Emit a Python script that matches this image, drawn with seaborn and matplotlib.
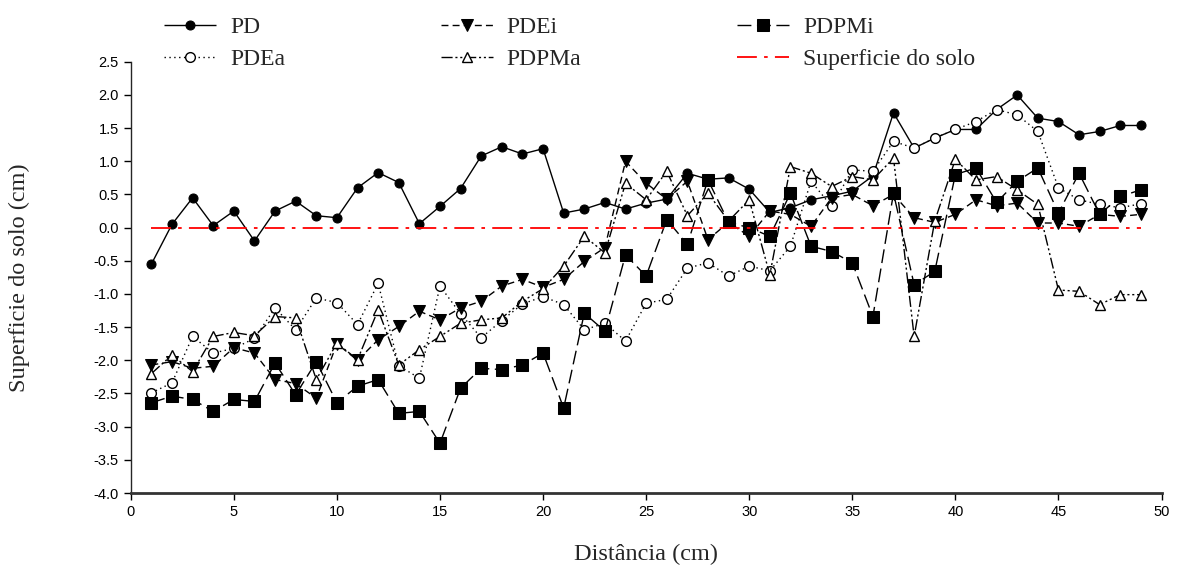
import numpy as np
import pandas as pd
import seaborn as sns
import matplotlib.pyplot as plt
from matplotlib.ticker import FormatStrFormatter

# distancia (cm)
dist = list(range(1, 50))

pd_vals = [-0.55, 0.05, 0.45, 0.03, 0.25, -0.20, 0.25, 0.40, 0.18, 0.15,
           0.60, 0.83, 0.68, 0.06, 0.32, 0.59, 1.08, 1.22, 1.11, 1.19,
           0.22, 0.28, 0.38, 0.28, 0.37, 0.43, 0.82, 0.73, 0.75, 0.58,
           0.23, 0.30, 0.42, 0.48, 0.55, 0.78, 1.73, 1.20, 1.35, 1.48,
           1.48, 1.78, 2.00, 1.65, 1.60, 1.40, 1.45, 1.54, 1.54]

pdei = [-2.07, -2.02, -2.12, -2.09, -1.81, -1.89, -2.29, -2.35, -2.57, -1.75,
        -2.00, -1.69, -1.49, -1.26, -1.39, -1.21, -1.11, -0.88, -0.78, -0.90,
        -0.78, -0.51, -0.30, 1.00, 0.67, 0.43, 0.70, -0.18, 0.08, -0.13,
        0.25, 0.20, 0.02, 0.45, 0.50, 0.33, 0.50, 0.15, 0.08, 0.20,
        0.42, 0.33, 0.37, 0.07, 0.07, 0.02, 0.20, 0.17, 0.20]

pdpmi = [-2.64, -2.54, -2.59, -2.77, -2.59, -2.62, -2.04, -2.52, -2.02, -2.64,
         -2.39, -2.29, -2.80, -2.77, -3.25, -2.42, -2.12, -2.14, -2.07, -1.89,
         -2.72, -1.29, -1.56, -0.41, -0.73, 0.12, -0.25, 0.72, 0.08, 0.00,
         -0.13, 0.52, -0.28, -0.36, -0.53, -1.34, 0.52, -0.86, -0.66, 0.80,
         0.90, 0.38, 0.70, 0.90, 0.22, 0.82, 0.20, 0.47, 0.57]

pdea = [-2.49, -2.34, -1.64, -1.89, -1.82, -1.67, -1.21, -1.54, -1.06, -1.13,
        -1.46, -0.84, -2.08, -2.27, -0.88, -1.30, -1.66, -1.40, -1.15, -1.04,
        -1.16, -1.54, -1.44, -1.71, -1.14, -1.08, -0.61, -0.53, -0.73, -0.58,
        -0.65, -0.28, 0.70, 0.32, 0.87, 0.85, 1.30, 1.20, 1.35, 1.48,
        1.60, 1.78, 1.70, 1.45, 0.60, 0.42, 0.35, 0.30, 0.36]

pdpma = [-2.20, -1.92, -2.17, -1.64, -1.58, -1.63, -1.34, -1.36, -2.29, -1.74,
         -1.99, -1.24, -2.07, -1.84, -1.64, -1.44, -1.39, -1.36, -1.11, -0.92,
         -0.58, -0.13, -0.38, 0.67, 0.42, 0.85, 0.18, 0.52, 0.10, 0.42,
         -0.71, 0.92, 0.82, 0.62, 0.77, 0.72, 1.05, -1.64, 0.10, 1.03,
         0.72, 0.77, 0.57, 0.35, -0.94, -0.96, -1.16, -1.01, -1.01]

solo = [0.0] * len(dist)

sns.set_style("ticks")
plt.rcParams['font.family'] = ['Liberation Serif', 'DejaVu Serif']

fig = plt.figure(figsize=(11.78, 5.67), dpi=100)
ax = fig.add_axes([0.111, 0.1305, 0.875, 0.7605])

sns.lineplot(x=dist, y=pd_vals, ax=ax, color='k', lw=1.0, marker='o', ms=6.5,
             mfc='k', mec='k', label='PD')
sns.lineplot(x=dist, y=pdea, ax=ax, color='k', lw=1.0, marker='o', ms=7,
             mfc='white', mec='k', mew=1.0, label='PDEa')
sns.lineplot(x=dist, y=pdei, ax=ax, color='k', lw=1.0, marker='v', ms=8,
             mfc='k', mec='k', label='PDEi')
sns.lineplot(x=dist, y=pdpma, ax=ax, color='k', lw=1.0, marker='^', ms=7.5,
             mfc='white', mec='k', mew=1.0, label='PDPMa')
sns.lineplot(x=dist, y=pdpmi, ax=ax, color='k', lw=1.0, marker='s', ms=8.5,
             mfc='k', mec='k', label='PDPMi')
sns.lineplot(x=dist, y=solo, ax=ax, color='red', lw=1.3, label='Superficie do solo')

styles = [(0, ()), (0, (1, 2.5)), (0, (5, 3)), (0, (8, 2, 1.5, 2, 1.5, 2)),
          (0, (10, 4)), (0, (11, 4, 2, 4))]
for line, ls in zip(ax.get_lines(), styles):
    line.set_linestyle(ls)

ax.set_xlim(0, 50)
ax.set_ylim(-4.0, 2.5)
ax.set_xticks(np.arange(0, 51, 5))
ax.set_yticks(np.arange(-4.0, 2.51, 0.5))
ax.yaxis.set_major_formatter(FormatStrFormatter('%.1f'))
for lab in ax.get_xticklabels() + ax.get_yticklabels():
    lab.set_family(['Liberation Sans Narrow', 'Liberation Sans'])
    lab.set_fontsize(10.5)
ax.tick_params(direction='out', length=5, width=1, colors='k')

sns.despine(ax=ax)
ax.spines['left'].set_linewidth(1.0)
ax.spines['bottom'].set_linewidth(2.0)
ax.spines['bottom'].set_color('#333333')

ax.set_xlabel('Distância (cm)', fontsize=17.5, labelpad=18)
ax.set_ylabel('Superficie do solo (cm)', fontsize=17.5, labelpad=46)

handles, labels = ax.get_legend_handles_labels()
ax.legend(handles, labels, ncol=3, loc='upper left', bbox_to_anchor=(0.123, 1.004),
          bbox_transform=fig.transFigure, frameon=False, fontsize=17,
          handlelength=2.2, columnspacing=6.6, labelspacing=0.45, handletextpad=0.6,
          borderpad=0.3)

fig.savefig('out.png', dpi=100)
